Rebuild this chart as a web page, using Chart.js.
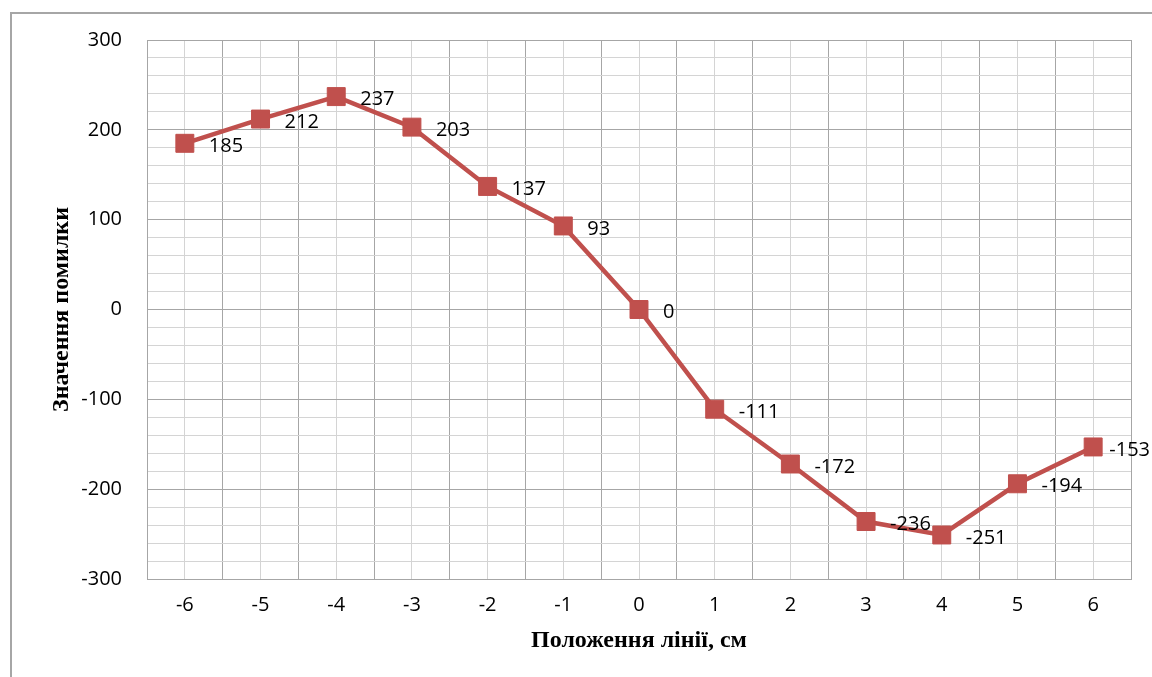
<!DOCTYPE html>
<html>
<head>
<meta charset="utf-8">
<script src="https://cdn.jsdelivr.net/npm/chart.js@4/dist/chart.umd.min.js"></script>
<style>
  html, body { margin: 0; padding: 0; background: #ffffff; }
  #wrap { position: relative; width: 1152px; height: 677px; }
</style>
</head>
<body>
<div id="wrap"><canvas id="chart" width="1152" height="677"></canvas></div>
<script>
// Line position along the measuring axis, cm
const positions = ['-6', '-5', '-4', '-3', '-2', '-1', '0', '1', '2', '3', '4', '5', '6'];
// Error value at each position
const errorValues = [185, 212, 237, 203, 137, 93, 0, -111, -172, -236, -251, -194, -153];
// Labelled steps of the value axis
const yTickLabels = [-300, -200, -100, 0, 100, 200, 300];

const xTitle = 'Положення лінії, см';
const yTitle = 'Значення помилки';

const seriesColor = '#c0504d';
const tickFont = { family: '"Open Sans", "Liberation Sans", sans-serif', size: 20 };
const titleFont = { family: '"Liberation Serif", "DejaVu Serif", serif', size: 24, weight: 'bold' };

// Outer frame of the chart object (left and top edges)
const framePlugin = {
  id: 'frame',
  beforeDraw(chart) {
    const ctx = chart.ctx;
    ctx.save();
    ctx.strokeStyle = '#a6a6a6';
    ctx.lineWidth = 2;
    ctx.beginPath();
    ctx.moveTo(11, chart.height);
    ctx.lineTo(11, 13);
    ctx.lineTo(chart.width, 13);
    ctx.stroke();
    ctx.restore();
  }
};

// Value labels to the right of each marker
const valueLabelPlugin = {
  id: 'valueLabels',
  afterDatasetsDraw(chart) {
    const ctx = chart.ctx;
    const meta = chart.getDatasetMeta(0);
    const data = chart.data.datasets[0].data;
    ctx.save();
    ctx.font = `${tickFont.size}px ${tickFont.family}`;
    ctx.fillStyle = '#000000';
    ctx.textAlign = 'left';
    ctx.textBaseline = 'middle';
    meta.data.forEach((pt, i) => {
      const text = String(data[i]);
      const w = ctx.measureText(text).width;
      let x = pt.x + 24;
      if (x + w > chart.width - 2) x = chart.width - 2 - w;
      ctx.fillText(text, x, pt.y + 3);
    });
    ctx.restore();
  }
};

new Chart(document.getElementById('chart'), {
  type: 'line',
  data: {
    labels: positions,
    datasets: [{
      data: errorValues,
      borderColor: seriesColor,
      backgroundColor: seriesColor,
      borderWidth: 4.5,
      pointStyle: 'rect',
      pointRadius: 12.7,
      pointBorderWidth: 1,
      pointBorderColor: seriesColor,
      pointBackgroundColor: seriesColor,
      tension: 0,
      xAxisID: 'x',
      yAxisID: 'y'
    }]
  },
  options: {
    responsive: false,
    animation: false,
    devicePixelRatio: 1,
    layout: { padding: { top: 40, right: 21, left: 0, bottom: 0 } },
    plugins: { legend: { display: false }, tooltip: { enabled: false } },
    scales: {
      x: {
        type: 'category',
        position: 'bottom',
        offset: true,
        grid: { offset: true, color: '#a6a6a6', lineWidth: 1, drawTicks: false },
        border: { display: true, color: '#a6a6a6', width: 1 },
        ticks: { color: '#000000', font: tickFont, padding: 14, maxRotation: 0, autoSkip: false },
        title: { display: true, text: xTitle, color: '#000000', font: titleFont, padding: { top: 12, bottom: 22 } },
        afterFit(scale) { scale.height = 98; }
      },
      xMid: {
        type: 'category',
        position: 'bottom',
        offset: true,
        grid: { offset: false, color: '#d4d4d4', lineWidth: 1, drawTicks: false },
        border: { display: false },
        ticks: { display: false },
        afterFit(scale) { scale.height = 0; }
      },
      y: {
        type: 'linear',
        min: -300,
        max: 300,
        grid: {
          drawTicks: false,
          color: (c) => (c.tick && yTickLabels.includes(c.tick.value)) ? '#a6a6a6' : '#d4d4d4',
          lineWidth: 1
        },
        border: { display: true, color: '#a6a6a6', width: 1 },
        ticks: {
          stepSize: 20,
          maxTicksLimit: 100,
          autoSkip: false,
          color: '#000000',
          font: tickFont,
          padding: 25,
          callback: (v) => yTickLabels.includes(v) ? String(v) : ''
        },
        title: { display: true, text: yTitle, color: '#000000', font: titleFont, padding: { top: 47, bottom: 0 } },
        afterFit(scale) { scale.width = 147; }
      }
    }
  },
  plugins: [framePlugin, valueLabelPlugin]
});
</script>
</body>
</html>
